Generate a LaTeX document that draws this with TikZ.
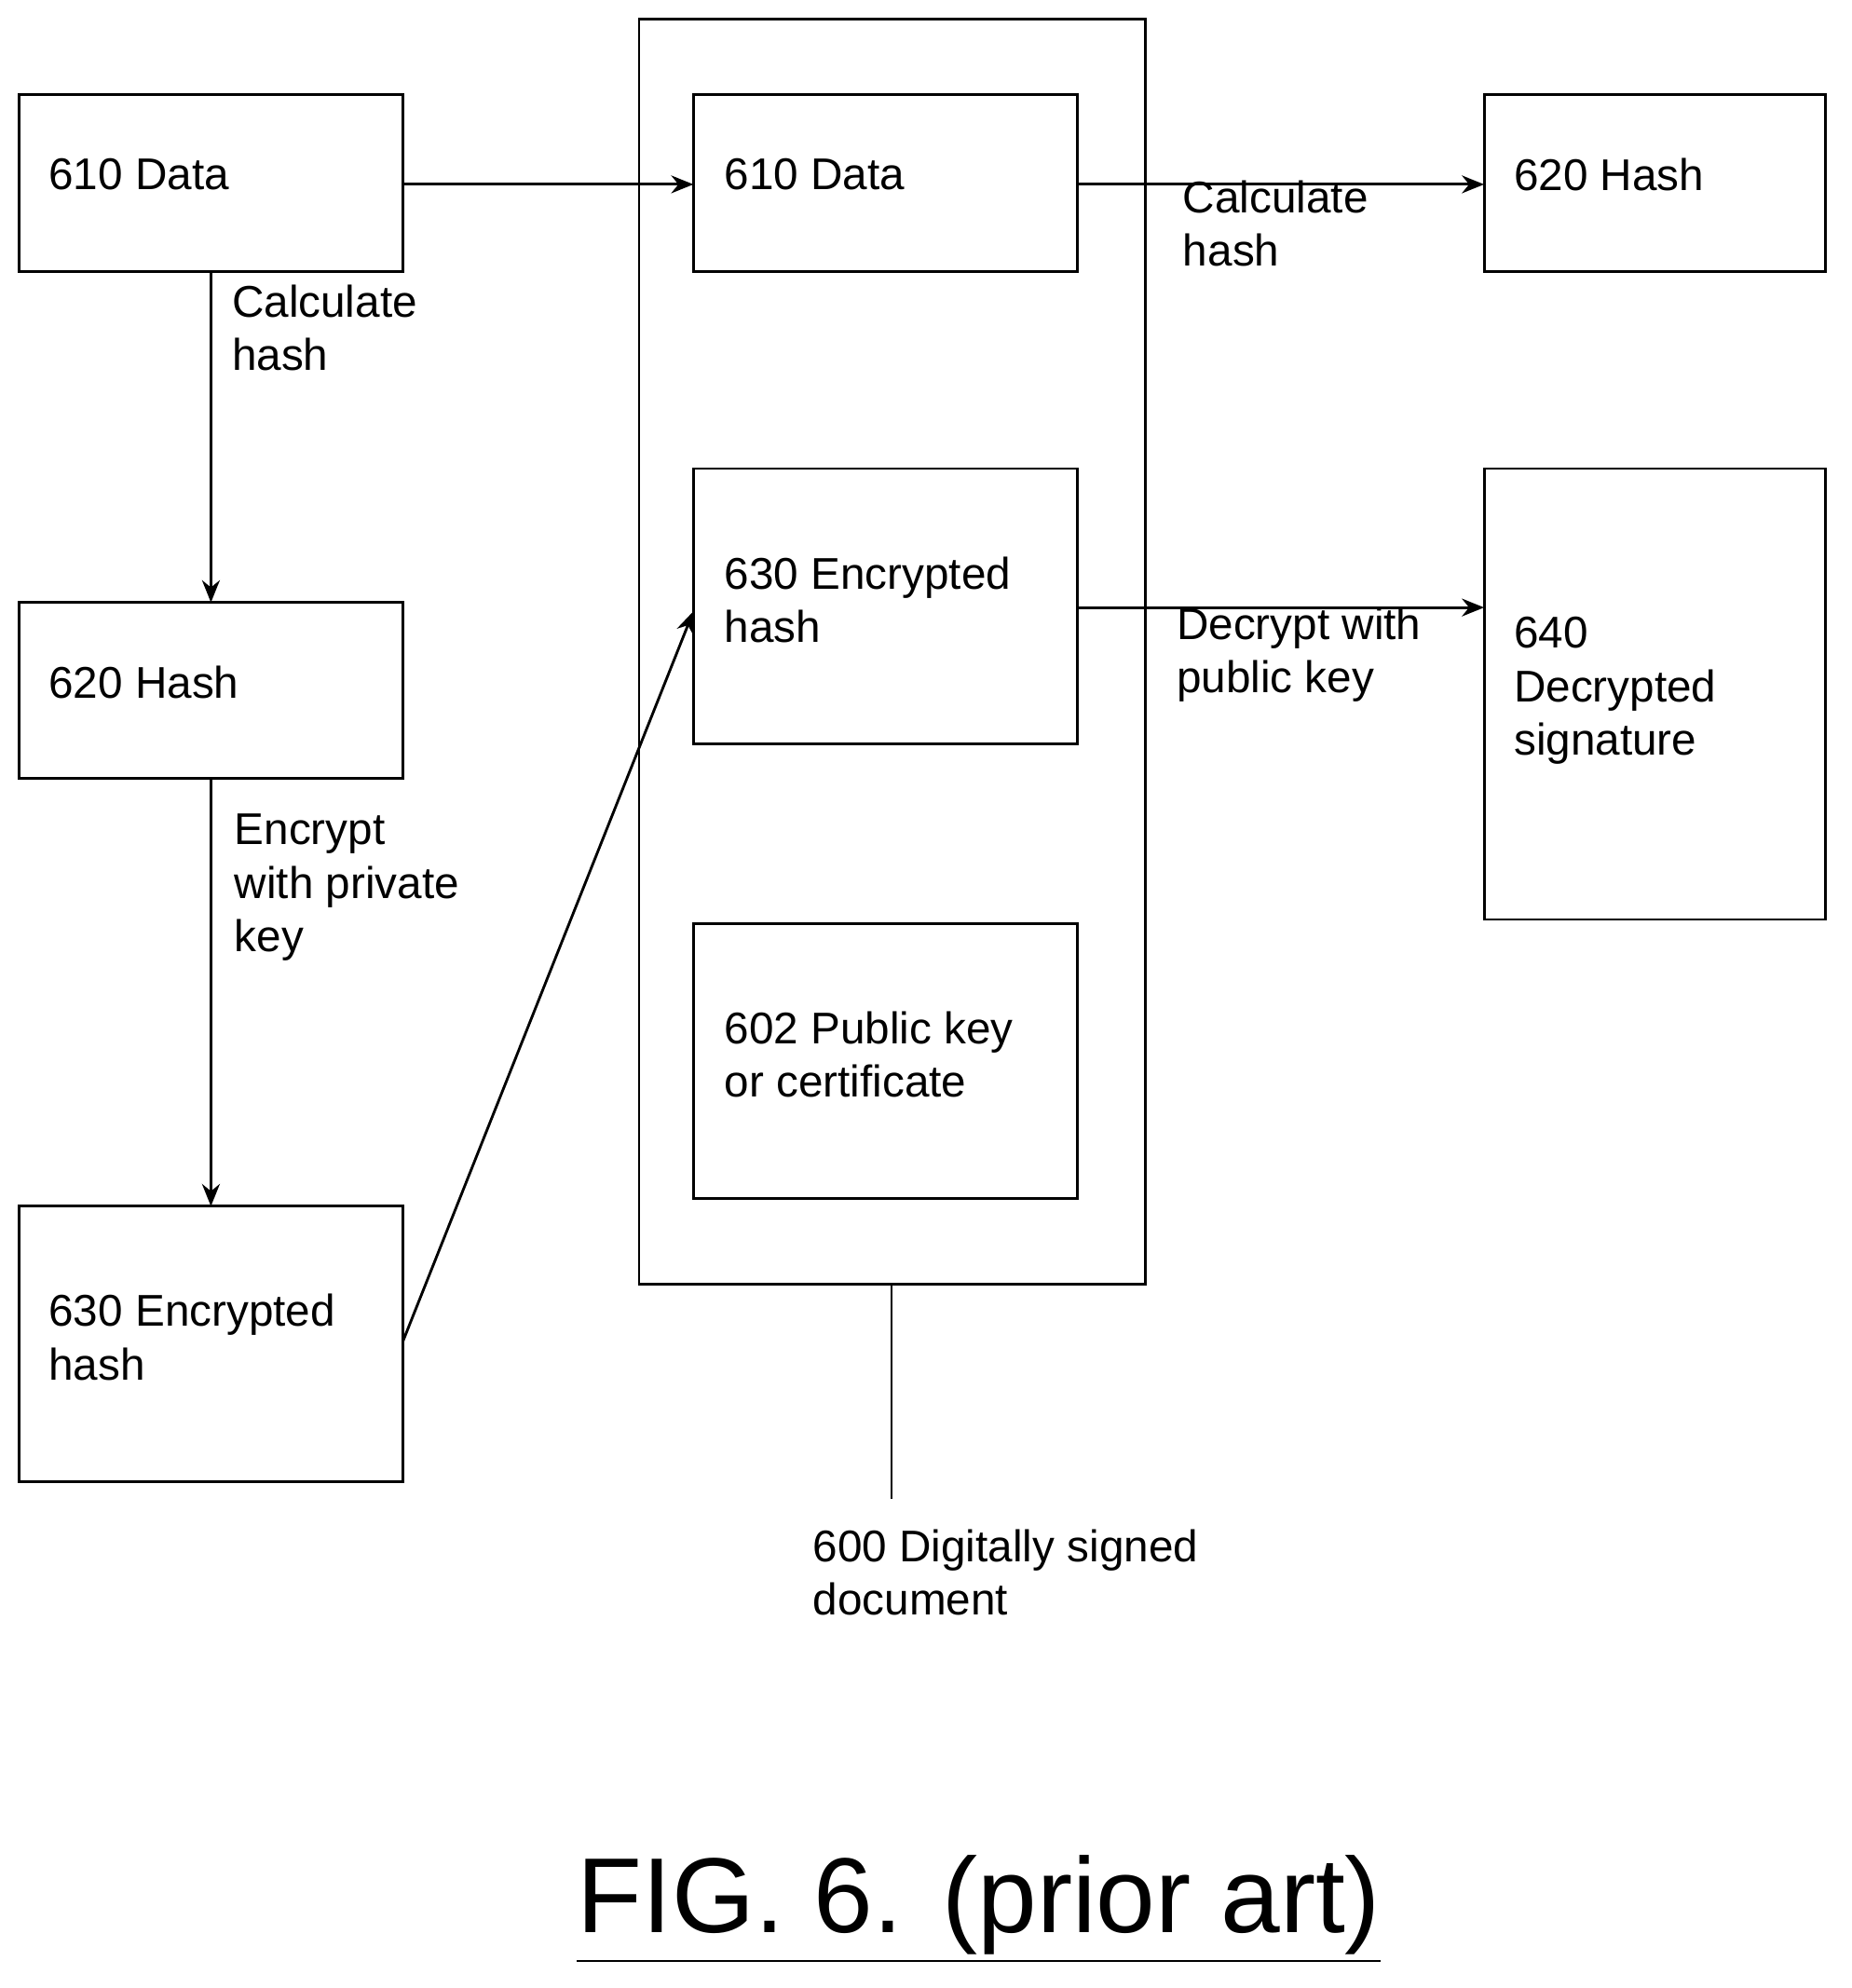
\documentclass[tikz,border=0pt]{standalone}
\usepackage{fontspec}
\setmainfont{Liberation Sans}
\usetikzlibrary{arrows.meta,calc}
\begin{document}
\begin{tikzpicture}[x=0.01cm,y=-0.01cm,
    font=\fontsize{10}{12}\selectfont,
    blk/.style={draw,line width=0.6pt,anchor=north west,align=left,inner sep=0pt,text width=#1},
    lbl/.style={anchor=north west,align=left,inner sep=0pt},
    flow/.style={-{Stealth[length=5pt,width=4pt]},line width=0.6pt}]
  % frame with the reference's margins
  \useasboundingbox (0,0) rectangle (1466,1574);

  % outer document box
  \draw[line width=0.6pt] (506,15) rectangle (907,1017);
  \coordinate (docbot) at (706,1017);
  \coordinate (doctail) at (706,1187);

  % left column
  \draw[line width=0.6pt] (15,75) rectangle node[pos=0.5] (lData) {} (319,215);
  \node[lbl] at (38,125) {610 Data};
  \draw[line width=0.6pt] (15,477) rectangle node (lHash) {} (319,616);
  \node[lbl] at (38,527) {620 Hash};
  \draw[line width=0.6pt] (15,955) rectangle node (lEnc) {} (319,1173);
  \node[lbl] at (38,1024) {630 Encrypted\\hash};

  % middle column
  \draw[line width=0.6pt] (549,75) rectangle node (mData) {} (853,215);
  \node[lbl] at (573,125) {610 Data};
  \draw[line width=0.6pt] (549,371) rectangle node (mEnc) {} (853,589);
  \node[lbl] at (573,440) {630 Encrypted\\hash};
  \draw[line width=0.6pt] (549,731) rectangle node (mKey) {} (853,949);
  \node[lbl] at (573,800) {602 Public key\\or certificate};

  % right column
  \draw[line width=0.6pt] (1175,75) rectangle node (rHash) {} (1445,215);
  \node[lbl] at (1198,125) {620 Hash};
  \draw[line width=0.6pt] (1175,371) rectangle node (rDec) {} (1445,728);
  \node[lbl] at (1198,488) {640\\Decrypted\\signature};

  % connectors
  \coordinate (a1) at (319,146); \coordinate (a2) at (549,146);
  \draw[flow] (a1) -- (a2);
  \coordinate (b1) at (853,146); \coordinate (b2) at (1175,146);
  \draw[flow] (b1) -- (b2);
  \coordinate (c1) at (167,215); \coordinate (c2) at (167,477);
  \draw[flow] (c1) -- (c2);
  \coordinate (d1) at (167,616); \coordinate (d2) at (167,955);
  \draw[flow] (d1) -- (d2);
  \coordinate (e1) at (319,1062); \coordinate (e2) at (549,484);
  \draw[flow] (e1) -- (e2);
  \coordinate (f1) at (853,481); \coordinate (f2) at (1175,481);
  \draw[flow] (f1) -- (f2);
  \draw[line width=0.4pt] (docbot) -- (doctail);

  % labels
  \node[lbl] at (183,225) {Calculate\\hash};
  \node[lbl] at (185,644) {Encrypt\\with private\\key};
  \node[lbl] at (936,142) {Calculate\\hash};
  \node[lbl] at (931,480) {Decrypt with\\public key};
  \node[lbl] at (643,1210) {600 Digitally signed\\document};
  \node[inner sep=0pt] at (775,1512) {\fontsize{24}{28}\selectfont\underline{FIG. 6. (prior art)}};
\end{tikzpicture}
\end{document}
